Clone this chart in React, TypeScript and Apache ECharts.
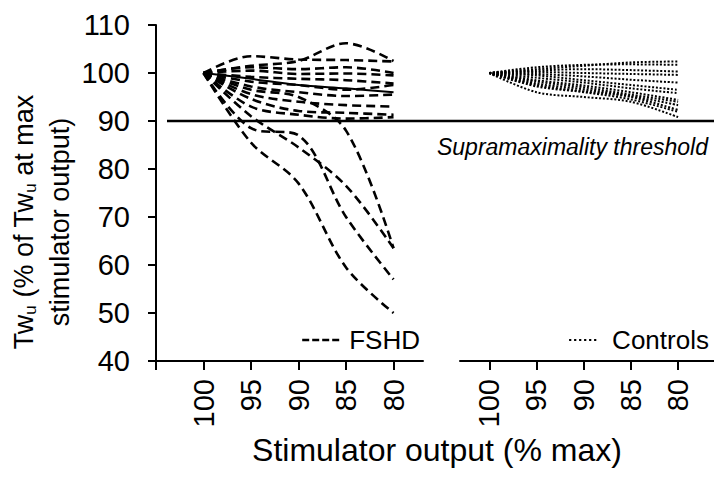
import React, { useEffect, useRef } from 'react';
import * as echarts from 'echarts';

// Stimulator output levels (% max) – x categories
const stimulatorOutput = [100, 95, 90, 85, 80];
const xTickValues = [100, 95, 90, 85, 80];
const thresholdValue = 90;

// FSHD participants (Twu, % of Twu at max stimulator output)
const fshdA = [100, 85.5, 77, 59.5, 50];
const fshdB = [100, 88.5, 87, 70, 57];
const fshdC = [100, 91, 84.5, 76.5, 63.5];
const fshdD = [100, 96.5, 95, 88, 63.5];
const fshdE = [100, 101.5, 102.5, 106.2, 102.5];
const fshdF = [100, 103.5, 102.8, 102.7, 102.4];
const fshdG = [100, 101.2, 100.8, 101.2, 100];
const fshdH = [100, 100.5, 99.8, 99.9, 99.5];
const fshdI = [100, 99.2, 98.8, 98.5, 97.8];
const fshdJ = [100, 98.2, 97.5, 96.5, 97.5];
const fshdK = [100, 97.2, 96, 95.2, 95.5];
const fshdL = [100, 95.6, 94, 93.3, 93];
const fshdM = [100, 94.6, 92.1, 91.7, 91.3];
const fshdN = [100, 93, 91.3, 90.5, 90.8];
const fshdSolid = [100, 98.8, 97.5, 96.8, 96];

// Control participants
const ctl1 = [100, 100.8, 101.5, 102.2, 102.4];
const ctl2 = [100, 101.2, 101.7, 101.8, 101.7];
const ctl3 = [100, 100.5, 100.8, 100.6, 100.3];
const ctl4 = [100, 100.2, 100, 99.8, 99.6];
const ctl5 = [100, 99.8, 99.3, 98.6, 98];
const ctl6 = [100, 99.5, 98.5, 97.5, 96.5];
const ctl7 = [100, 99, 98, 96.8, 95.8];
const ctl8 = [100, 98.5, 97.4, 96, 94.4];
const ctl9 = [100, 98.2, 97, 95.5, 94];
const ctl10 = [100, 97.8, 96.6, 95.2, 93.3];
const ctl11 = [100, 97.5, 96.2, 95, 92.3];
const ctl12 = [100, 97.2, 96, 94.5, 91.9];
const ctl13 = [100, 96, 95, 94, 90.8];

const fshdSeries = [fshdA, fshdB, fshdC, fshdD, fshdE, fshdF, fshdG, fshdH, fshdI, fshdJ, fshdK, fshdL, fshdM, fshdN];
const controlSeries = [ctl1, ctl2, ctl3, ctl4, ctl5, ctl6, ctl7, ctl8, ctl9, ctl10, ctl11, ctl12, ctl13];

const FONT = 'Liberation Sans, Arial, Helvetica, sans-serif';
const toPoints = (vals: number[]) => stimulatorOutput.map((x, i) => [x, vals[i]]);

export default function App() {
  const ref = useRef<HTMLDivElement>(null);
  useEffect(() => {
    document.body.style.margin = '0';
    const chart = echarts.init(ref.current!, null, { renderer: 'svg' });
    const axisLineStyle = { color: '#000', width: 2 };
    const series: any[] = [];
    fshdSeries.forEach((vals) =>
      series.push({
        type: 'line', name: 'FSHD', xAxisIndex: 0, yAxisIndex: 0,
        data: toPoints(vals), symbol: 'none', smooth: 0.33, silent: true,
        itemStyle: { color: '#000' },
        lineStyle: { color: '#000', width: 2.6, type: [9, 5] },
      })
    );
    series.push({
      type: 'line', name: 'FSHD mean', xAxisIndex: 0, yAxisIndex: 0,
      data: toPoints(fshdSolid), symbol: 'none', smooth: 0.33, silent: true,
      itemStyle: { color: '#000' },
      lineStyle: { color: '#000', width: 2, type: 'solid' },
    });
    controlSeries.forEach((vals) =>
      series.push({
        type: 'line', name: 'Controls', xAxisIndex: 1, yAxisIndex: 1,
        data: toPoints(vals), symbol: 'none', smooth: 0.33, silent: true,
        itemStyle: { color: '#000' },
        lineStyle: { color: '#000', width: 2, type: [2, 1.8] },
      })
    );

    chart.setOption({
      animation: false,
      textStyle: { fontFamily: FONT, color: '#000' },
      grid: [
        { left: 156, top: 25, width: 267, height: 336 },
        { left: 460, top: 25, width: 254, height: 336 },
      ],
      xAxis: [
        {
          type: 'value', gridIndex: 0, inverse: true, min: 76.9, max: 105,
          axisLine: { onZero: false, lineStyle: axisLineStyle },
          axisTick: { customValues: [105, ...xTickValues], length: 9, lineStyle: axisLineStyle },
          axisLabel: { customValues: xTickValues, rotate: 90, fontSize: 29, margin: 18, color: '#000', fontFamily: FONT },
          splitLine: { show: false },
        },
        {
          type: 'value', gridIndex: 1, inverse: true, min: 76.2, max: 103.1,
          axisLine: { onZero: false, lineStyle: axisLineStyle },
          axisTick: { customValues: xTickValues, length: 9, lineStyle: axisLineStyle },
          axisLabel: { customValues: xTickValues, rotate: 90, fontSize: 29, margin: 18, color: '#000', fontFamily: FONT },
          splitLine: { show: false },
        },
      ],
      yAxis: [
        {
          type: 'value', gridIndex: 0, min: 40, max: 110, interval: 10,
          axisLine: { show: true, onZero: false, lineStyle: axisLineStyle },
          axisTick: { show: true, length: 8, lineStyle: axisLineStyle },
          axisLabel: { fontSize: 29, margin: 26, color: '#000', fontFamily: FONT },
          splitLine: { show: false },
          name: '{n|Tw}{s|u}{n| (% of Tw}{s|u}{n| at max}\n{m|stimulator output)}',
          nameLocation: 'middle', nameGap: 75, nameRotate: 90,
          nameTextStyle: {
            color: '#000', fontFamily: FONT, fontSize: 27, padding: [0, 58, 0, 0],
            rich: {
              n: { fontSize: 27, lineHeight: 30, fontFamily: FONT, color: '#000' },
              s: { fontSize: 17, verticalAlign: 'bottom', fontFamily: FONT, color: '#000' },
              m: { fontSize: 27, lineHeight: 42, fontFamily: FONT, color: '#000' },
            },
          },
        },
        {
          type: 'value', gridIndex: 1, min: 40, max: 110, interval: 10, show: false,
        },
      ],
      legend: [
        {
          data: ['FSHD'], left: 296, top: 322, selectedMode: false, padding: 5,
          itemWidth: 38, itemHeight: 14,
          itemStyle: { opacity: 0 },
          lineStyle: { type: [7, 3], width: 2.4, color: '#000' },
          textStyle: { fontSize: 26, color: '#000', fontFamily: FONT, padding: [0, 0, 0, 4] },
        },
        {
          data: ['Controls'], left: 563, top: 322, selectedMode: false, padding: 5,
          itemWidth: 30, itemHeight: 14,
          itemStyle: { opacity: 0 },
          lineStyle: { type: [2.2, 2.8], width: 2.2, color: '#000' },
          textStyle: { fontSize: 26, color: '#000', fontFamily: FONT, padding: [0, 0, 0, 8] },
        },
      ],
      series,
    });

    const yThr = chart.convertToPixel({ yAxisIndex: 0 }, thresholdValue) as number;
    chart.setOption({
      graphic: [
        {
          type: 'line', silent: true, z: 10,
          shape: { x1: 167, y1: yThr, x2: 714, y2: yThr },
          style: { stroke: '#000', lineWidth: 2.5 },
        },
        {
          type: 'text', silent: true,
          style: {
            text: 'Supramaximality threshold', x: 708, y: yThr + 26,
            align: 'right', verticalAlign: 'middle',
            fontSize: 23, fontStyle: 'italic', fontFamily: FONT, fill: '#000',
          },
        },
        {
          type: 'text', silent: true,
          style: {
            text: 'Stimulator output (% max)', x: 437, y: 450,
            align: 'center', verticalAlign: 'middle',
            fontSize: 32, fontFamily: FONT, fill: '#000',
          },
        },
      ],
    });

    return () => chart.dispose();
  }, []);
  return <div ref={ref} style={{ position: 'absolute', left: 0, top: 0, width: 714, height: 487 }} />;
}
